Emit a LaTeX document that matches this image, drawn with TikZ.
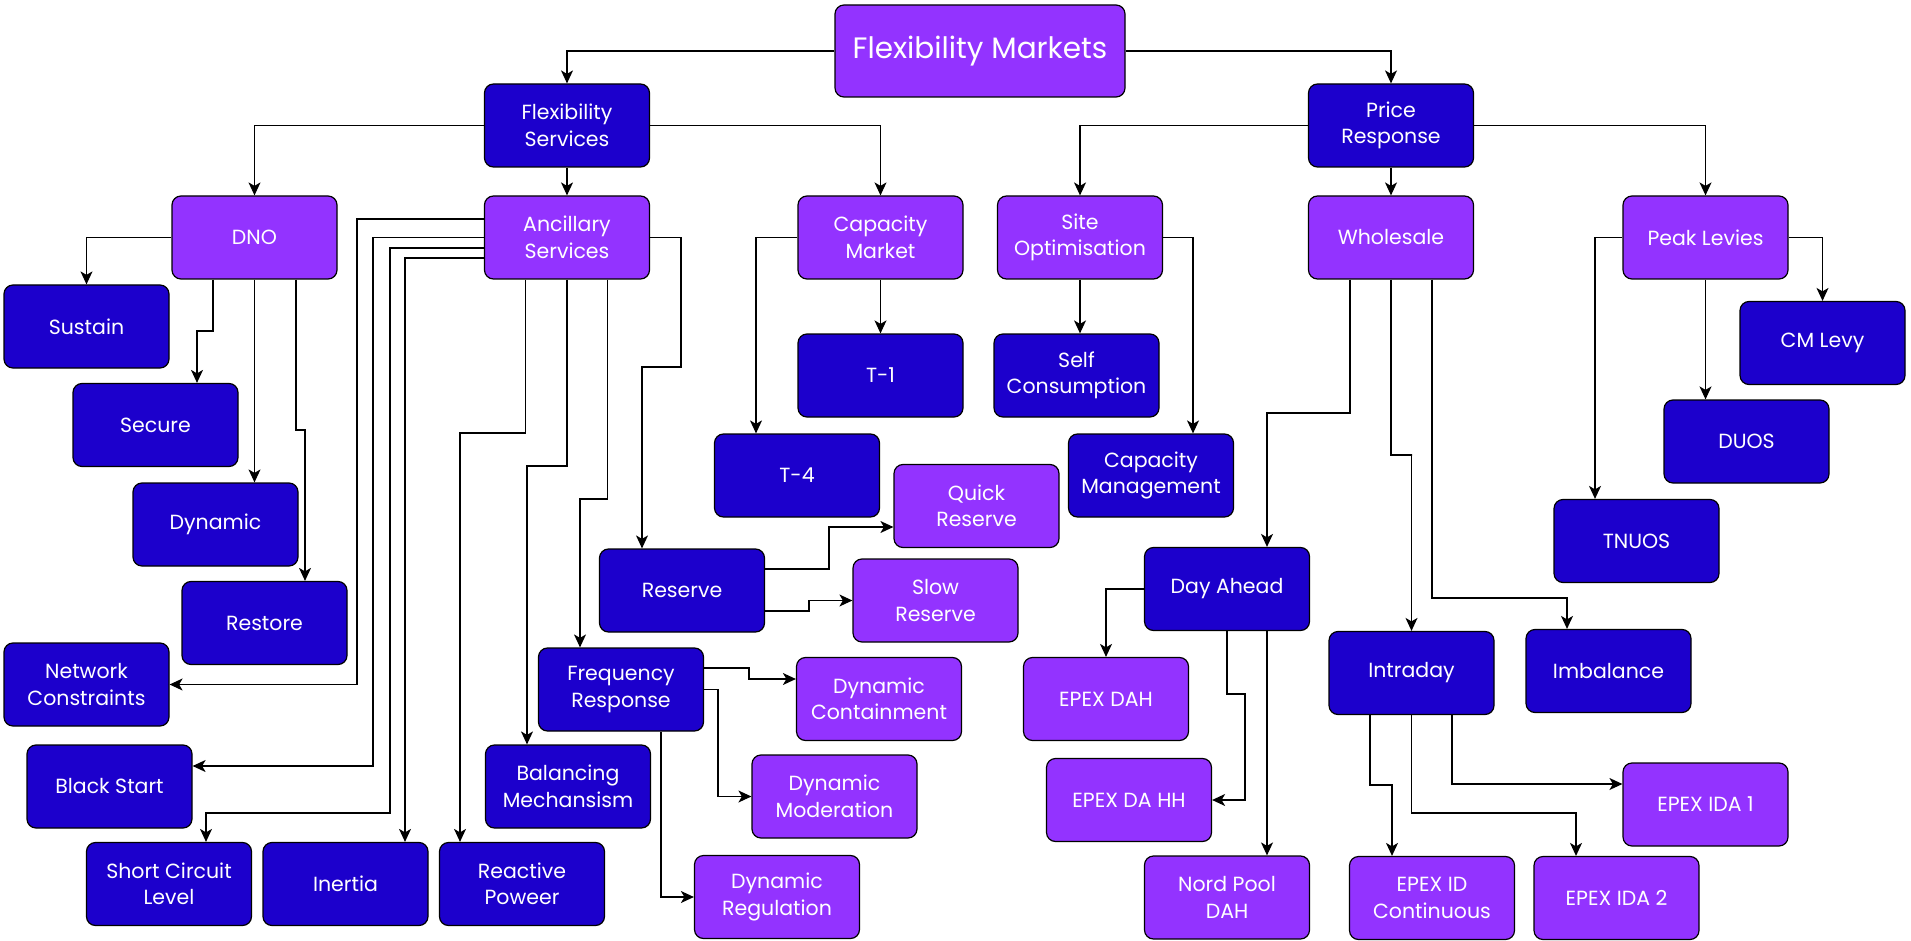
\documentclass[tikz,border=0pt]{standalone}
\usepackage{fontspec}
\setmainfont{Poppins}
\usetikzlibrary{positioning,arrows.meta}

\definecolor{flexblue}{HTML}{1C00CC}
\definecolor{flexviolet}{HTML}{9333FF}

\begin{document}
\begin{tikzpicture}[x=1pt,y=-1pt,on grid,
  >={Stealth[length=13pt,width=12pt,inset=3.5pt]},
  box/.style={draw=black,line width=1.2pt,rounded corners=9pt,minimum width=165pt,
    minimum height=83pt,align=center,text=white,font=\fontsize{20.5}{26.5}\selectfont},
  dark/.style={box,fill=flexblue},
  light/.style={box,fill=flexviolet},
  link/.style={->,line width=1.2pt}]
  \useasboundingbox (0,0) rectangle (1911,941);
  \path
  node[light,minimum width=290pt,minimum height=92pt,font=\fontsize{29.5}{35}\selectfont] (fm) at (980,51) {Flexibility Markets}
  node[dark] (fs) [below left=74.5pt and 413pt of fm] {Flexibility\\Services}
  node[dark] (pr) [below right=74.5pt and 411pt of fm] {Price\\Response}

  node[light] (dno) [below left=112pt and 312.5pt of fs] {DNO}
  node[light] (as) [below=112pt of fs] {Ancillary\\Services}
  node[light] (capm) [below right=112pt and 313.5pt of fs] {Capacity\\Market}
  node[light] (so) [below left=112pt and 311pt of pr] {Site\\Optimisation}
  node[light] (ws) [below=112pt of pr] {Wholesale}
  node[light] (pl) [below right=112pt and 314.5pt of pr] {Peak Levies}
  ;
  \path
  node[dark] (sustain) [below left=89pt and 168pt of dno] {Sustain}
  node[dark] (secure) [below left=187.5pt and 99pt of dno] {Secure}
  node[dark] (dynamic) [below left=287pt and 39pt of dno] {Dynamic}
  node[dark] (restore) [below right=385.5pt and 10pt of dno] {Restore}

  node[dark] (nc) [below left=447pt and 480.5pt of as] {Network\\Constraints}
  node[dark] (bs) [below left=549pt and 457.5pt of as] {Black Start}
  node[dark] (scl) [below left=646.5pt and 398pt of as] {Short Circuit\\Level}
  node[dark] (inertia) [below left=646.5pt and 221.5pt of as] {Inertia}
  node[dark] (rp) [below left=646.5pt and 45pt of as] {Reactive\\Poweer}
  node[dark] (bm) [below right=549pt and 1pt of as] {Balancing\\Mechansism}
  node[dark] (fr) [below right=452pt and 54pt of as] {Frequency\\Response}
  node[dark] (res) [below right=353pt and 115pt of as] {Reserve}

  node[light] (qr) [above right=84.5pt and 294.5pt of res] {Quick\\Reserve}
  node[light] (sr) [below right=10pt and 253.5pt of res] {Slow\\Reserve}
  node[light] (dc) [below right=9.5pt and 258pt of fr] {Dynamic\\Containment}
  node[light] (dm) [below right=107pt and 213.5pt of fr] {Dynamic\\Moderation}
  node[light] (dr) [below right=207.5pt and 156pt of fr] {Dynamic\\Regulation}

  node[dark] (t1) [below=138pt of capm] {T-1}
  node[dark] (t4) [below left=238pt and 83.5pt of capm] {T-4}
  node[dark] (sc) [below left=138pt and 3.5pt of so] {Self\\Consumption}
  node[dark] (capman) [below right=238pt and 71pt of so] {Capacity\\Management}

  node[dark] (da) [below left=351.5pt and 164pt of ws] {Day Ahead}
  node[dark] (intra) [below right=435.5pt and 20.5pt of ws] {Intraday}
  node[dark] (imb) [below right=433.5pt and 217.5pt of ws] {Imbalance}
  node[light] (edah) [below left=110pt and 121pt of da] {EPEX DAH}
  node[light] (edahh) [below left=211pt and 98pt of da] {EPEX DA HH}
  node[light] (npd) [below=308.5pt of da] {Nord Pool\\DAH}
  node[light] (idc) [below right=225pt and 20.5pt of intra] {EPEX ID\\Continuous}
  node[light] (ida2) [below right=225pt and 205pt of intra] {EPEX IDA 2}
  node[light] (ida1) [below right=131.5pt and 294pt of intra] {EPEX IDA 1}

  node[dark] (cml) [below right=105.5pt and 117pt of pl] {CM Levy}
  node[dark] (duos) [below right=204pt and 41pt of pl] {DUOS}
  node[dark] (tnuos) [below left=303.5pt and 69pt of pl] {TNUOS}
  ;

  \draw[link] (fm.west) -| (fs);
  \draw[link] (fm.east) -| (pr);
  \draw[link] (fs.west) -| (dno);
  \draw[link] (fs) -- (as);
  \draw[link] (fs.east) -| (capm);
  \draw[link] (pr.west) -| (so);
  \draw[link] (pr) -- (ws);
  \draw[link] (pr.east) -| (pl);

  \draw[link] (dno.west) -| (sustain);
  \draw[link] ([xshift=-41.5pt]dno.south) |- (197,331) -| ([xshift=41.5pt]secure.north);
  \draw[link] (dno.south) -- (dno.south |- dynamic.north);
  \draw[link] ([xshift=41.5pt]dno.south) |- (305,430) -| ([xshift=40.5pt]restore.north);

  \draw[link] ([yshift=18.5pt]as.west) -| (357,684.5) |- (nc.east);
  \draw[link] (as.west) -| (373,766) |- ([yshift=20.5pt]bs.east);
  \draw[link] ([yshift=-10.5pt]as.west) -| (390,813) -| ([xshift=37pt]scl.north);
  \draw[link] ([yshift=-20.5pt]as.west) -| ([xshift=59.5pt]inertia.north);
  \draw[link] ([xshift=-41.5pt]as.south) |- (460,433) -| ([xshift=-62pt]rp.north);
  \draw[link] (as.south) |- (527,466) -| ([xshift=-41pt]bm.north);
  \draw[link] ([xshift=40.5pt]as.south) |- (580,499) -| ([xshift=-41pt]fr.north);
  \draw[link] (as.east) -| (681,367) -| ([xshift=-40pt]res.north);

  \draw[link] ([yshift=21.5pt]res.east) -| (829,527) |- ([yshift=-21pt]qr.west);
  \draw[link] ([yshift=-20.5pt]res.east) -| (809,600) |- (sr.west);
  \draw[link] ([yshift=21.5pt]fr.east) -| (749,679) |- ([yshift=20pt]dc.west);
  \draw[link] (fr.east) -| (718,796) |- (dm.west);
  \draw[link] ([xshift=40pt]fr.south) |- (dr.west);

  \draw[link] (capm.west) -| ([xshift=-41pt]t4.north);
  \draw[link] (capm) -- (t1);
  \draw[link] (so.south) -- (so.south |- sc.north);
  \draw[link] (so.east) -| ([xshift=42pt]capman.north);

  \draw[link] ([xshift=-41pt]ws.south) |- (1267,413) -| ([xshift=40pt]da.north);
  \draw[link] (ws.south) |- (1412,455) -| (intra.north);
  \draw[link] ([xshift=41pt]ws.south) |- (1567,598) -| ([xshift=-41.5pt]imb.north);
  \draw[link] (da.west) -| (edah);
  \draw[link] (da.south) |- (1245,694) |- (edahh.east);
  \draw[link] ([xshift=40pt]da.south) -- ([xshift=40pt]npd.north);
  \draw[link] ([xshift=-41.5pt]intra.south) |- (1392,785) -| ([xshift=-40pt]idc.north);
  \draw[link] (intra.south) |- (1576,813) -| ([xshift=-40.5pt]ida2.north);
  \draw[link] ([xshift=40.5pt]intra.south) |- ([yshift=20.5pt]ida1.west);

  \draw[link] (pl.west) -| ([xshift=-41.5pt]tnuos.north);
  \draw[link] (pl.south) -- ([xshift=-41pt]duos.north);
  \draw[link] (pl.east) -| (cml);
\end{tikzpicture}
\end{document}
